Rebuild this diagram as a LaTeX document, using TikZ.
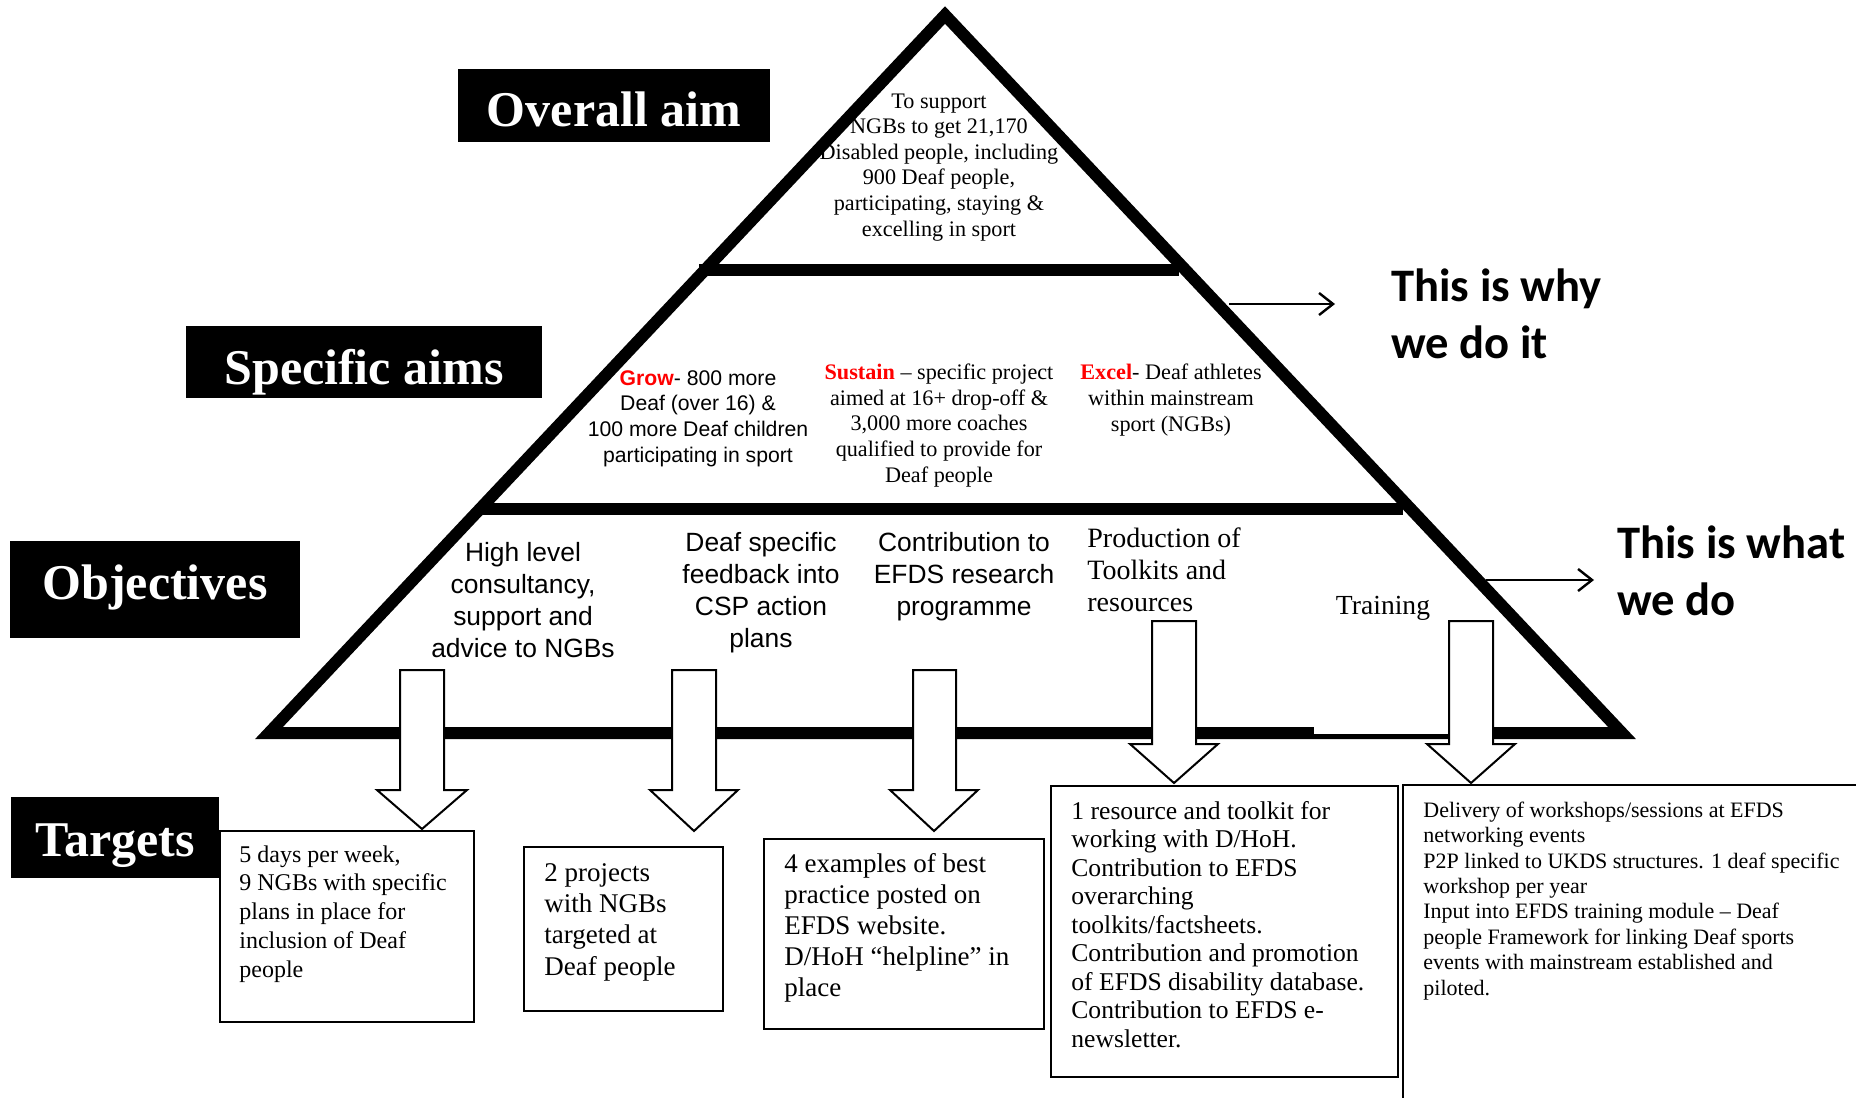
\documentclass[tikz,border=0pt]{standalone}
\usepackage{fontspec}
\setmainfont{Liberation Serif}
\newfontfamily\arialfont{Liberation Sans}
\newfontfamily\calibrifont{Carlito}
\usetikzlibrary{arrows.meta}
\newcommand{\fsz}[2]{\fontsize{#1}{#2}\selectfont}

\begin{document}
\begin{tikzpicture}[x=0.5pt, y=-0.5pt,
  heading/.style={fill=black, text=white, inner sep=0pt, text depth=0pt, font=\fsz{25}{30}\bfseries},
  midtext/.style={inner sep=0pt, anchor=base, align=center},
  lefttext/.style={inner sep=0pt, anchor=base west, align=left},
  tbox/.style={draw, line width=1pt, anchor=north west, inner sep=0pt},
  blockarrow/.style={draw, fill=white, line width=1pt, line join=miter},
  thinarrow/.style={-{Straight Barb[length=7pt, width=11pt]}, line width=1.2pt},
  why/.style={lefttext, font=\calibrifont\bfseries\fsz{23.3}{28.5}}]

\useasboundingbox (0,0) rectangle (1856,1097);

% headings on the left (text height moves the words inside the box)
\node[heading, text height=21pt, minimum width=156pt, minimum height=36.5pt] (aim) at (614,105.5) {Overall aim};
\node[heading, text height=22.3pt, minimum width=178pt, minimum height=36pt] (spec) at (364,362) {Specific aims};
\node[heading, text height=9.9pt, minimum width=145pt, minimum height=48.5pt] (obj) at (155,589.5) {Objectives};
\node[heading, text height=19.3pt, minimum width=104pt, minimum height=40.5pt] (tgt) at (115,837.5) {Targets};

% the pyramid
\coordinate (lc) at (269,733);
\coordinate (apex) at (945,15);
\coordinate (rc) at (1622,733);
\draw[line width=6pt, miter limit=10] (lc) -- (apex) -- (rc) -- cycle;
\draw[line width=6pt] (699,270) -- (1179,270);
\draw[line width=6pt] (480,509) -- (1403,509);
\fill[white] (1314,726) rectangle (1450,733.5);

% top level (anchors sit on the last line)
\node[midtext, font=\fsz{11.1}{12.8}] (overall) at (939,236)
  {To support\\NGBs to get 21,170\\Disabled people, including\\900 Deaf people,\\participating, staying \&\\excelling in sport};

% middle level
\node[midtext, font=\arialfont\fsz{10.6}{12.8}] (grow) at (698,462)
  {{\color{red}\bfseries Grow}- 800 more\\Deaf (over 16) \&\\100 more Deaf children\\participating in sport};
\node[midtext, font=\fsz{11.1}{12.8}] (sustain) at (939,482)
  {{\color{red}\bfseries Sustain} – specific project\\aimed at 16+ drop-off \&\\3,000 more coaches\\qualified to provide for\\Deaf people};
\node[midtext, font=\fsz{11.1}{12.8}] (excel) at (1171,431)
  {{\color{red}\bfseries Excel}- Deaf athletes\\within mainstream\\sport (NGBs)};

% bottom level
\node[midtext, font=\arialfont\fsz{13.2}{16}] (consult) at (523,657)
  {High level\\consultancy,\\support and\\advice to NGBs};
\node[midtext, font=\arialfont\fsz{13.2}{16}] (feedback) at (761,647)
  {Deaf specific\\feedback into\\CSP action\\plans};
\node[midtext, font=\arialfont\fsz{13.2}{16}] (research) at (964,615)
  {Contribution to\\EFDS research\\programme};
\node[lefttext, font=\fsz{14}{16}] (toolkits) at (1087,611)
  {Production of\\Toolkits and\\resources};
\node[midtext, font=\fsz{13.8}{16}] (training) at (1383,614) {Training};

% block arrows down to the targets
\draw[blockarrow] (400,670) -- (400,790) -- (377,790) -- (422,829) -- (467,790) -- (444,790) -- (444,670) -- cycle;
\draw[blockarrow] (672,670) -- (672,790) -- (650,790) -- (694,831) -- (738,790) -- (716,790) -- (716,670) -- cycle;
\draw[blockarrow] (913,670) -- (913,790) -- (890,790) -- (934,831) -- (978,790) -- (956,790) -- (956,670) -- cycle;
\draw[blockarrow] (1152,621) -- (1152,744) -- (1130,744) -- (1174,783) -- (1218,744) -- (1196,744) -- (1196,621) -- cycle;
\draw[blockarrow] (1449,621) -- (1449,744) -- (1427,744) -- (1471,783) -- (1515,744) -- (1493,744) -- (1493,621) -- cycle;

% target boxes
\node[tbox, minimum width=127pt, minimum height=95.5pt] (t1) at (219,830) {};
\node[tbox, minimum width=99.5pt, minimum height=82pt] (t2) at (523,846) {};
\node[tbox, minimum width=140pt, minimum height=95pt] (t3) at (763,838) {};
\node[tbox, minimum width=173.5pt, minimum height=145.5pt] (t4) at (1050,785) {};
\draw[line width=1pt] (1403,1110) -- (1403,785) -- (1870,785);

\node[lefttext, font=\fsz{12}{14.35}] (t1text) at (239,977)
  {5 days per week,\\9 NGBs with specific\\plans in place for\\inclusion of Deaf\\people};
\node[lefttext, font=\fsz{13.5}{15.6}] (t2text) at (544,975)
  {2 projects\\with NGBs\\targeted at\\Deaf people};
\node[lefttext, font=\fsz{13.5}{15.5}] (t3text) at (784,996)
  {4 examples of best\\practice posted on\\EFDS website.\\D/HoH “helpline” in\\place};
\node[lefttext, font=\fsz{12.8}{14.25}] (t4text) at (1071,1047)
  {1 resource and toolkit for\\working with D/HoH.\\Contribution to EFDS\\overarching\\toolkits/factsheets.\\Contribution and promotion\\of EFDS disability database.\\Contribution to EFDS e-\\newsletter.};
\node[lefttext, font=\fsz{11}{12.7}] (t5text) at (1423,995)
  {Delivery of workshops/sessions at EFDS\\networking events\\P2P linked to UKDS structures. 1 deaf specific\\workshop per year\\Input into EFDS training module – Deaf\\people Framework for linking Deaf sports\\events with mainstream established and\\piloted.};

% why and what
\node[why] (why) at (1391,358) {This is why\\we do it};
\node[why] (what) at (1617,615) {This is what\\we do};
\coordinate (whyfrom) at (1229,304);
\coordinate (whyto) at (1335,304);
\coordinate (whatfrom) at (1486,580);
\coordinate (whatto) at (1594,580);
\draw[thinarrow] (whyfrom) -- (whyto);
\draw[thinarrow] (whatfrom) -- (whatto);

\end{tikzpicture}
\end{document}
